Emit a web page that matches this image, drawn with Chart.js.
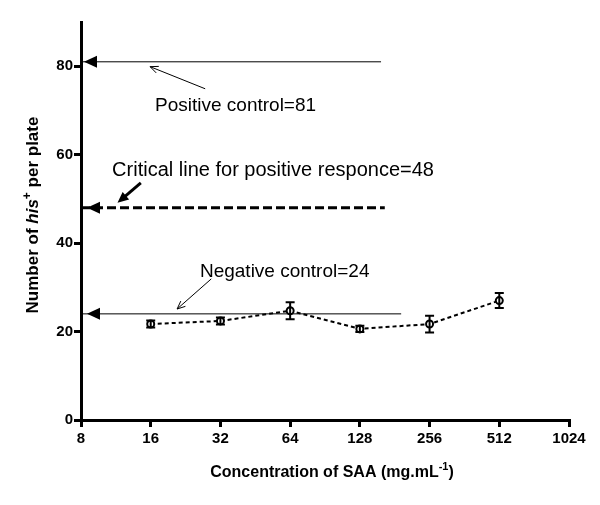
<!DOCTYPE html>
<html>
<head>
<meta charset="utf-8">
<script src="https://cdn.jsdelivr.net/npm/chart.js@4.4.1/dist/chart.umd.min.js"></script>
<style>
  html, body { margin: 0; padding: 0; background: #fff; }
  #wrap { width: 600px; height: 505px; }
</style>
</head>
<body>
<div id="wrap"><canvas id="c" width="600" height="505"></canvas></div>
<script>
// ticks
var xTicks = [8, 16, 32, 64, 128, 256, 512, 1024];
var yTicks = [0, 20, 40, 60, 80];

// series (mean +/- error)
var concentrations = [16, 32, 64, 128, 256, 512];
var meanCounts = [21.7, 22.4, 24.7, 20.6, 21.7, 27.0];
var errCounts = [0.8, 0.8, 1.9, 0.7, 1.9, 1.7];

// reference lines
var controlLevels = [81, 48, 24];
var controlEnds = [158, 164, 193];
var controlLabels = ["Positive control=81", "Critical line for positive responce=48", "Negative control=24"];

// where the labels and pointer arrows sit (in axis units)
var notes = [
  { text: [16.7, 69.9], from: [27.5, 74.9], to: [15.9, 79.9], width: 1, filled: false, size: 19 },
  { text: [10.9, 55.2], from: [14.5, 53.6], to: [11.5, 49.1], width: 3, filled: true, size: 20 },
  { text: [26.1, 32.4], from: [29.2, 31.9], to: [20.8, 25.1], width: 1, filled: false, size: 19 }
];
var lineStyles = [
  { width: 1, dash: [] },
  { width: 3, dash: [9, 4] },
  { width: 1, dash: [] }
];

var FONT = "'Liberation Sans', Arial, Helvetica, sans-serif";

var datasets = [{
  data: concentrations.map(function (c, i) { return { x: c, y: meanCounts[i] }; }),
  borderColor: "#000",
  borderWidth: 2,
  borderDash: [4, 3],
  pointRadius: 3.5,
  pointBorderWidth: 2,
  pointBorderColor: "#000",
  pointBackgroundColor: "#fff",
  order: 0
}];
for (var i = 0; i < controlLevels.length; i++) {
  datasets.push({
    data: [{ x: xTicks[0], y: controlLevels[i] }, { x: controlEnds[i], y: controlLevels[i] }],
    borderColor: "#000",
    borderWidth: lineStyles[i].width,
    borderDash: lineStyles[i].dash,
    pointRadius: 0,
    order: 1
  });
}

function arrowHead(ctx, tx, ty, fx, fy, len, half, filled) {
  var a = Math.atan2(ty - fy, tx - fx);
  var bx = tx - len * Math.cos(a), by = ty - len * Math.sin(a);
  var px = -Math.sin(a) * half, py = Math.cos(a) * half;
  ctx.beginPath();
  if (filled) {
    ctx.moveTo(tx, ty);
    ctx.lineTo(bx + px, by + py);
    ctx.lineTo(bx - px, by - py);
    ctx.closePath();
    ctx.fill();
  } else {
    ctx.moveTo(bx + px, by + py);
    ctx.lineTo(tx, ty);
    ctx.lineTo(bx - px, by - py);
    ctx.stroke();
  }
}

var extras = {
  id: "extras",
  afterDatasetsDraw: function (chart) {
    var ctx = chart.ctx, x = chart.scales.x, y = chart.scales.y;
    ctx.save();
    ctx.strokeStyle = "#000";
    ctx.fillStyle = "#000";
    ctx.setLineDash([]);

    // error bars
    ctx.lineWidth = 2;
    for (var i = 0; i < concentrations.length; i++) {
      var px = x.getPixelForValue(concentrations[i]);
      var top = y.getPixelForValue(meanCounts[i] + errCounts[i]);
      var bot = y.getPixelForValue(meanCounts[i] - errCounts[i]);
      ctx.beginPath();
      ctx.moveTo(px, top); ctx.lineTo(px, bot);
      ctx.moveTo(px - 4.5, top); ctx.lineTo(px + 4.5, top);
      ctx.moveTo(px - 4.5, bot); ctx.lineTo(px + 4.5, bot);
      ctx.stroke();
    }

    // arrowheads on the reference lines
    for (var j = 0; j < controlLevels.length; j++) {
      var ly = y.getPixelForValue(controlLevels[j]);
      var tip = x.left + 3 + (j > 0 ? 3 : 0);
      arrowHead(ctx, tip, ly, tip + 20, ly, 13, 6, true);
    }

    // labels and pointers
    ctx.textAlign = "left";
    ctx.textBaseline = "alphabetic";
    for (var k = 0; k < notes.length; k++) {
      var n = notes[k];
      ctx.font = n.size + "px " + FONT;
      ctx.fillText(controlLabels[k], x.getPixelForValue(n.text[0]), y.getPixelForValue(n.text[1]));
      var fx = x.getPixelForValue(n.from[0]), fy = y.getPixelForValue(n.from[1]);
      var tx = x.getPixelForValue(n.to[0]), ty = y.getPixelForValue(n.to[1]);
      ctx.lineWidth = n.width;
      ctx.beginPath();
      ctx.moveTo(fx, fy);
      if (n.filled) {
        var a = Math.atan2(ty - fy, tx - fx);
        ctx.lineTo(tx - 8 * Math.cos(a), ty - 8 * Math.sin(a));
      } else {
        ctx.lineTo(tx, ty);
      }
      ctx.stroke();
      ctx.lineWidth = 1;
      if (n.filled) arrowHead(ctx, tx, ty, fx, fy, 11, 5, true);
      else arrowHead(ctx, tx, ty, fx, fy, 8, 3.5, false);
    }
    ctx.restore();
  },
  afterDraw: function (chart) {
    var ctx = chart.ctx, area = chart.chartArea;
    ctx.save();
    ctx.fillStyle = "#000";
    ctx.textBaseline = "alphabetic";
    ctx.textAlign = "left";

    // x title with superscript
    var bold = "bold 16px " + FONT, sup = "bold 11px " + FONT;
    var p1 = "Concentration of SAA (mg.mL", p2 = "-1", p3 = ")";
    ctx.font = bold; var w1 = ctx.measureText(p1).width, w3 = ctx.measureText(p3).width;
    ctx.font = sup; var w2 = ctx.measureText(p2).width;
    var sx = (area.left + area.right) / 2 + 7 - (w1 + w2 + w3) / 2, sy = 477;
    ctx.font = bold; ctx.fillText(p1, sx, sy);
    ctx.font = sup; ctx.fillText(p2, sx + w1, sy - 7);
    ctx.font = bold; ctx.fillText(p3, sx + w1 + w2, sy);

    // y title, rotated, with italic his and superscript +
    var ybold = "bold 17px " + FONT;
    var parts = [
      ["Number of ", ybold, 0],
      ["his", "italic bold 17px " + FONT, 0],
      ["+", "bold 12px " + FONT, -7],
      [" per plate", ybold, 0]
    ];
    var total = 0;
    parts.forEach(function (p) { ctx.font = p[1]; p.push(ctx.measureText(p[0]).width); total += p[3]; });
    ctx.translate(38, 215);
    ctx.rotate(-Math.PI / 2);
    var cx = -total / 2;
    parts.forEach(function (p) { ctx.font = p[1]; ctx.fillText(p[0], cx, p[2]); cx += p[3]; });
    ctx.restore();
  }
};

new Chart(document.getElementById("c"), {
  type: "line",
  data: { datasets: datasets },
  plugins: [extras],
  options: {
    responsive: false,
    animation: false,
    layout: { padding: { top: 22, right: 31, left: 0, bottom: 0 } },
    plugins: { legend: { display: false }, tooltip: { enabled: false } },
    scales: {
      x: {
        type: "logarithmic",
        min: xTicks[0],
        max: xTicks[xTicks.length - 1],
        afterBuildTicks: function (s) { s.ticks = xTicks.map(function (v) { return { value: v }; }); },
        afterFit: function (s) { s.height = 85; },
        ticks: {
          autoSkip: false, maxRotation: 0, padding: 3, color: "#000",
          font: { family: FONT, size: 15, weight: "bold" },
          callback: function (v) { return String(v); }
        },
        grid: { drawOnChartArea: false, drawTicks: true, tickLength: 7, lineWidth: 3, color: "#000" },
        border: { width: 3, color: "#000" }
      },
      y: {
        min: 0,
        max: 90,
        afterBuildTicks: function (s) { s.ticks = yTicks.map(function (v) { return { value: v }; }); },
        afterFit: function (s) { s.width = 81; },
        ticks: {
          padding: 1, color: "#000",
          font: { family: FONT, size: 15, weight: "bold" }
        },
        grid: { drawOnChartArea: false, drawTicks: true, tickLength: 7, lineWidth: 3, color: "#000" },
        border: { width: 3, color: "#000" }
      }
    }
  }
});
</script>
</body>
</html>
